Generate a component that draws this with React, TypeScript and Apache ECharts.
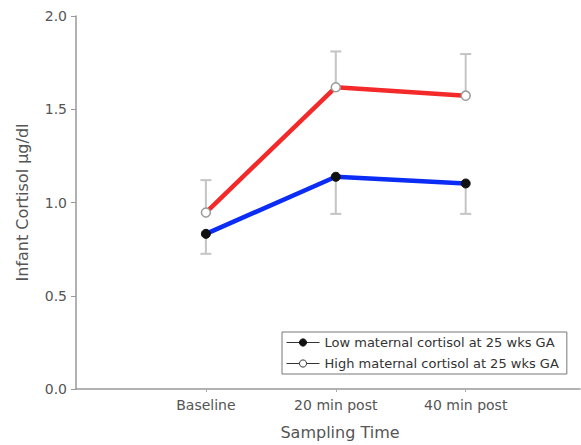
import React, { useEffect, useRef } from "react";
import * as echarts from "echarts";

const categories = ["Baseline", "20 min post", "40 min post"];
const categoryPositions = [1, 2, 3];
const lowMeans = [0.832, 1.138, 1.102];
const highMeans = [0.946, 1.618, 1.573];
const highUpper = [1.12, 1.81, 1.796];
const lowLower = [0.725, 0.939, 0.939];
const yTicks = [0, 0.5, 1, 1.5, 2];

const lowName = "Low maternal cortisol at 25 wks GA";
const highName = "High maternal cortisol at 25 wks GA";

const FONT = "DejaVu Sans";

export default function App() {
  const ref = useRef<HTMLDivElement>(null);
  useEffect(() => {
    document.body.style.margin = "0";
    if (!ref.current) return;
    const chart = echarts.init(ref.current, undefined, { renderer: "svg" });

    const errData: number[][] = [];
    categoryPositions.forEach((x, i) => {
      errData.push([x, highMeans[i], highUpper[i]]);
      errData.push([x, lowMeans[i], lowLower[i]]);
    });

    chart.setOption({
      animation: false,
      textStyle: { fontFamily: FONT },
      grid: { left: 76, top: 16, right: 1, bottom: 55, containLabel: false },
      legend: {
        orient: "vertical",
        left: 282,
        top: 332,
        padding: [4, 8, 4, 4],
        itemWidth: 33,
        itemHeight: 9,
        itemGap: 8,
        borderColor: "#777",
        borderWidth: 1,
        textStyle: { fontSize: 13, color: "#333", fontFamily: FONT },
        data: [
          {
            name: lowName,
            itemStyle: { color: "#111", borderColor: "#111", borderWidth: 1 },
            lineStyle: { color: "#333", width: 1 },
          },
          {
            name: highName,
            itemStyle: { color: "#fff", borderColor: "#333", borderWidth: 1 },
            lineStyle: { color: "#333", width: 1 },
          },
        ],
      },
      xAxis: {
        type: "value",
        min: 0,
        max: 3.88,
        interval: 1,
        name: "Sampling Time",
        nameLocation: "middle",
        nameGap: 35,
        nameTextStyle: { fontSize: 16, color: "#555", fontFamily: FONT, padding: [0, 0, 0, 24] },
        splitLine: { show: false },
        axisLine: { show: true, lineStyle: { color: "#999", width: 1.5 } },
        axisTick: { show: true, length: 3, customValues: categoryPositions, lineStyle: { color: "#aaa" } },
        axisLabel: {
          customValues: categoryPositions,
          margin: 9,
          fontSize: 14,
          color: "#555",
          fontFamily: FONT,
          formatter: (v: number) => categories[Math.round(v) - 1] ?? "",
        },
      },
      yAxis: {
        type: "value",
        min: 0,
        max: 2,
        interval: 0.5,
        name: "Infant Cortisol µg/dl",
        nameLocation: "middle",
        nameGap: 46,
        nameTextStyle: { fontSize: 16, color: "#555", fontFamily: FONT },
        splitLine: { show: false },
        axisLine: { show: true, lineStyle: { color: "#999", width: 1.5 } },
        axisTick: { show: true, length: 5, lineStyle: { color: "#999" } },
        axisLabel: {
          margin: 9,
          fontSize: 14,
          color: "#555",
          fontFamily: FONT,
          formatter: (v: number) => (yTicks.includes(v) ? v.toFixed(1) : ""),
        },
      },
      series: [
        {
          type: "custom",
          name: "errors",
          z: 1,
          silent: true,
          data: errData,
          renderItem: (_params: any, api: any) => {
            const x = api.value(0);
            const from = api.coord([x, api.value(1)]);
            const to = api.coord([x, api.value(2)]);
            const cap = 5.5;
            const style = { stroke: "#c4c4c4", lineWidth: 2 };
            return {
              type: "group",
              children: [
                { type: "line", shape: { x1: from[0], y1: from[1], x2: to[0], y2: to[1] }, style },
                { type: "line", shape: { x1: to[0] - cap, y1: to[1], x2: to[0] + cap, y2: to[1] }, style },
              ],
            };
          },
        },
        {
          type: "line",
          name: highName,
          z: 3,
          data: categoryPositions.map((x, i) => [x, highMeans[i]]),
          symbol: "circle",
          symbolSize: 9,
          lineStyle: { color: "#f42a2a", width: 4.5 },
          itemStyle: { color: "#fff", borderColor: "#999", borderWidth: 1.5 },
        },
        {
          type: "line",
          name: lowName,
          z: 4,
          data: categoryPositions.map((x, i) => [x, lowMeans[i]]),
          symbol: "circle",
          symbolSize: 9,
          lineStyle: { color: "#0a2cf5", width: 4.5 },
          itemStyle: { color: "#111", borderColor: "#111", borderWidth: 1 },
        },
      ],
    });
    return () => chart.dispose();
  }, []);
  return <div ref={ref} style={{ width: 581, height: 445 }} />;
}
